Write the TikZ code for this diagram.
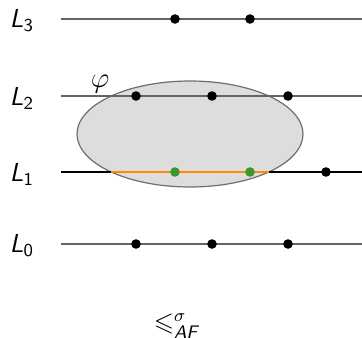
\documentclass[tikz,border=0pt]{standalone}
\usepackage{amsmath}
\usepackage{amssymb}
\usetikzlibrary{positioning}
\definecolor{lvlgrey}{RGB}{100,100,100}
\definecolor{phigrey}{RGB}{221,221,221}
\definecolor{AFgreen}{RGB}{60,150,45}
\definecolor{AForange}{RGB}{255,140,0}
\newcommand{\lvl}[1]{\textit{L}$_{\textsf{#1}}$}

\begin{document}
\begin{tikzpicture}[x=0.5pt, y=-0.5pt, font=\sffamily\fontsize{13}{15}\selectfont,
    dot/.style={circle, fill=black, inner sep=0pt, minimum size=4.8pt}]
  \useasboundingbox (0,0) rectangle (362,337);
  % Region phi
  \draw[phigrey!50!black, fill=phigrey, semithick] (190,134) ellipse (113 and 53);
  \node[font=\fontsize{15}{17}\selectfont] (phi) at (100,84) {$\varphi$};
  % Levels
  \foreach \i/\y/\c in {3/19/lvlgrey, 2/96/lvlgrey, 1/172/black, 0/244/lvlgrey}{
    \node (L\i) at (22,\y+2) {\lvl{\i}};
    \coordinate (s\i) at (61,\y);
    \coordinate (e\i) at (362,\y);
    \draw[\c, semithick] (s\i) -- (e\i);
  }
  % Cut of phi on L1
  \coordinate (o1) at (111,172);
  \coordinate (o2) at (269,172);
  \draw[AForange, thick] (o1) -- (o2);
  % Elements
  \foreach \x in {175,250}
    \node[dot] (a3-\x) at (\x,19) {};
  \foreach \x in {136,212,288}{
    \node[dot] (a2-\x) at (\x,96) {};
    \node[dot] (a0-\x) at (\x,244) {};
  }
  \foreach \x in {175,250}
    \node[dot, fill=AFgreen] (a1-\x) at (\x,172) {};
  \node[dot] (a1-326) at (326,172) {};
  % Order
  \node (ord) at (176,326) {$\leqslant^{\sigma}_{\textit{\textsf{AF}}}$};
\end{tikzpicture}
\end{document}
